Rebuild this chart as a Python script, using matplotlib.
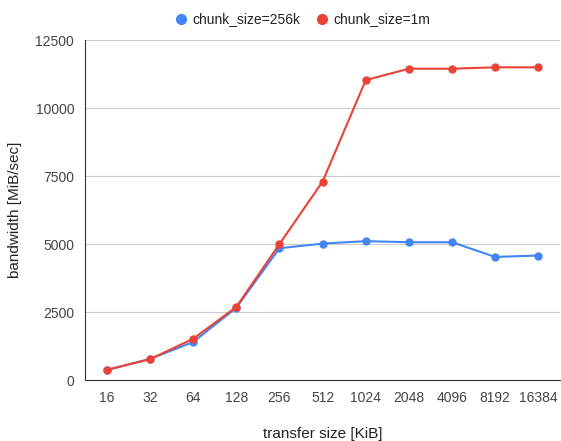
import matplotlib
matplotlib.use("Agg")
from matplotlib import pyplot as plt

sizes = ["16", "32", "64", "128", "256", "512", "1024", "2048", "4096", "8192", "16384"]
bw_256k = [370, 780, 1400, 2660, 4850, 5020, 5110, 5070, 5070, 4530, 4580]
bw_1m = [380, 770, 1520, 2690, 5000, 7300, 11030, 11450, 11450, 11500, 11500]
yticks = [0, 2500, 5000, 7500, 10000, 12500]

plt.rcParams["font.family"] = ["Liberation Sans", "DejaVu Sans"]

fig = plt.figure(figsize=(5.61, 4.41), dpi=100)
ax = fig.add_axes([0.152, 0.138, 0.846, 0.771])

x = range(len(sizes))
ax.plot(x, bw_256k, color="#4285F4", marker="o", markersize=5, linewidth=1.5,
        label="chunk_size=256k", zorder=3)
ax.plot(x, bw_1m, color="#EA4335", marker="o", markersize=5, linewidth=1.5,
        label="chunk_size=1m", zorder=4)

# Presentation
ax.set_xlim(-0.5, len(sizes) - 0.5)
ax.set_ylim(0, 12500)
ax.set_xticks(list(x))
ax.set_xticklabels(sizes)
ax.set_yticks(yticks)
ax.grid(axis="y", color="#cccccc", linewidth=0.8)
ax.set_axisbelow(True)
ax.tick_params(length=0, labelsize=10, colors="#444444", pad=8)
for s in ["top", "right"]:
    ax.spines[s].set_visible(False)
ax.spines["left"].set_color("#333333")
ax.spines["bottom"].set_color("#333333")
ax.set_xlabel("transfer size [KiB]", fontsize=11, color="#222222", labelpad=16)
ax.set_ylabel("bandwidth [MiB/sec]", fontsize=11, color="#222222", labelpad=10)

fig.legend(loc="upper center", bbox_to_anchor=(0.54, 1.0), ncol=2, frameon=False,
           fontsize=10, handlelength=0.8, handletextpad=0.4, columnspacing=1.2,
           labelcolor="#222222")
leg = fig.legends[0]
for h in leg.legend_handles:
    h.set_linestyle("none")
    h.set_markersize(7)

fig.savefig("out.png", dpi=100)
